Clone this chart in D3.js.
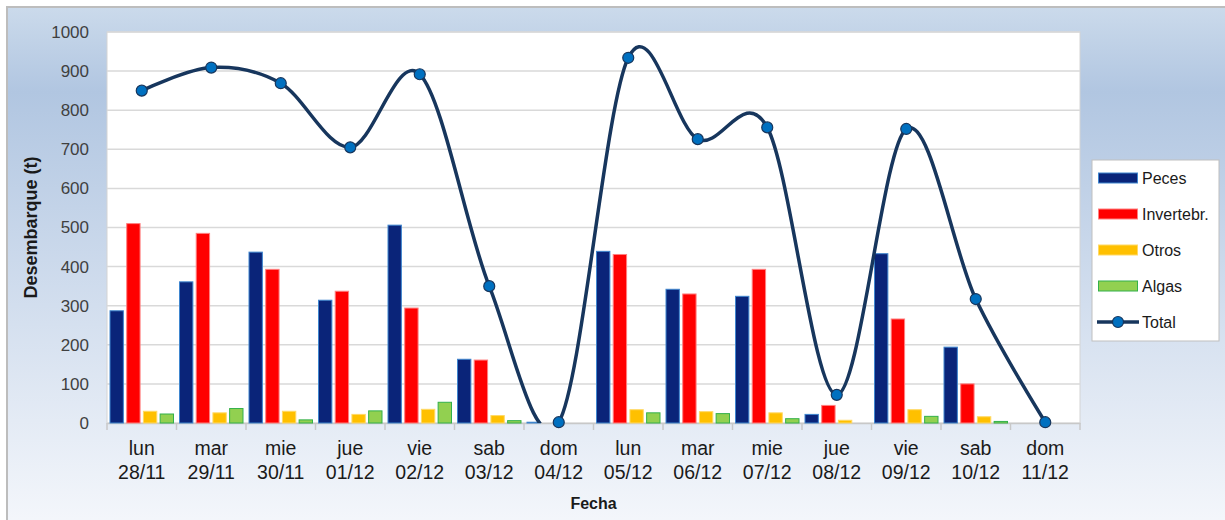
<!DOCTYPE html>
<html>
<head>
<meta charset="utf-8">
<script src="https://cdn.jsdelivr.net/npm/d3@7"></script>
<style>
    body { margin: 0; background: #ffffff; }
    svg { display: block; font-family: "Liberation Sans", Arial, sans-serif; }
</style>
</head>
<body>
<svg id="chart" width="1225" height="520"></svg>
<script>

/* ====================================================================================
 * Data
 * ==================================================================================== */

var days = ["lun", "mar", "mie", "jue", "vie", "sab", "dom",
            "lun", "mar", "mie", "jue", "vie", "sab", "dom"];
var dates = ["28/11", "29/11", "30/11", "01/12", "02/12", "03/12", "04/12",
             "05/12", "06/12", "07/12", "08/12", "09/12", "10/12", "11/12"];

var peces    = [287, 361, 437, 314, 506, 163, 2, 439, 342, 324, 22, 433, 194, 0];
var invert   = [510, 485, 393, 337, 294, 161, 0, 431, 330, 393, 45, 266, 100, 0];
var otros    = [30, 26, 30, 22, 35, 19, 0, 34, 29, 26, 7, 34, 16, 0];
var algas    = [23, 37, 8, 31, 53, 6, 0, 26, 24, 11, 0, 17, 4, 0];
var total    = [850, 909, 869, 705, 892, 350, 2, 934, 726, 756, 72, 752, 317, 2];

var seriesNames = ["Peces", "Invertebr.", "Otros", "Algas"];
var yTicks = [0, 100, 200, 300, 400, 500, 600, 700, 800, 900, 1000];

/* ====================================================================================
 * Layout
 * ==================================================================================== */

var svg = d3.select("#chart");
var plot = {left: 107, right: 1080, top: 32, bottom: 423};

var fills   = ["#0a2479", "#ff0000", "#ffc000", "#92d050"];
var strokes = ["#3f86cf", "#ff8080", "#ffd966", "#33b04a"];

var defs = svg.append("defs");
var grad = defs.append("linearGradient").attr("id", "bg")
    .attr("x1", 0).attr("y1", 0).attr("x2", 0).attr("y2", 1);
grad.append("stop").attr("offset", "0%").attr("stop-color", "#cbdaeb");
grad.append("stop").attr("offset", "16%").attr("stop-color", "#b1c6e1");
grad.append("stop").attr("offset", "100%").attr("stop-color", "#f6f8fc");

defs.append("clipPath").attr("id", "plotclip").append("rect")
    .attr("x", plot.left).attr("y", plot.top)
    .attr("width", plot.right - plot.left).attr("height", plot.bottom - plot.top);

// chart area background + frame
svg.append("rect").attr("x", 7).attr("y", 7).attr("width", 1230).attr("height", 530)
    .attr("fill", "url(#bg)").attr("stroke", "#bdbdbd").attr("stroke-width", 2);

// plot area
svg.append("rect").attr("x", plot.left).attr("y", plot.top)
    .attr("width", plot.right - plot.left).attr("height", plot.bottom - plot.top)
    .attr("fill", "#ffffff").attr("stroke", "#d4d4d4").attr("stroke-width", 1);

// scales
var x0 = d3.scaleBand().domain(d3.range(days.length))
    .range([plot.left, plot.right]).padding(0);
var x1 = d3.scaleBand().domain(seriesNames)
    .range([3, x0.bandwidth() - 3]).paddingInner(0.2);
var y = d3.scaleLinear().domain([0, 1000]).range([plot.bottom, plot.top]);

// gridlines
svg.append("g").selectAll("line").data(yTicks.slice(1)).enter().append("line")
    .attr("x1", plot.left).attr("x2", plot.right)
    .attr("y1", function(d) { return y(d); }).attr("y2", function(d) { return y(d); })
    .attr("stroke", "#d9d9d9").attr("stroke-width", 1.5);

// y axis labels
var yAxis = d3.axisLeft(y).tickValues(yTicks).tickFormat(d3.format("d"))
    .tickSize(0).tickPadding(18);
var yg = svg.append("g").attr("transform", "translate(" + plot.left + ",0)").call(yAxis);
yg.select(".domain").remove();
yg.selectAll("text").attr("font-size", "17px").attr("fill", "#404040")
    .attr("font-family", "Liberation Sans, Arial, sans-serif");

// x axis: baseline and tick marks between categories
var xAxis = d3.axisBottom(x0).tickSize(0).tickFormat("");
var xg = svg.append("g").attr("transform", "translate(0," + plot.bottom + ")").call(xAxis);
xg.select(".domain").attr("stroke", "#c8c8c8").attr("stroke-width", 1.5);
svg.append("g").selectAll("line").data(d3.range(days.length + 1)).enter().append("line")
    .attr("x1", function(d) { return plot.left + d * x0.step(); })
    .attr("x2", function(d) { return plot.left + d * x0.step(); })
    .attr("y1", plot.bottom).attr("y2", plot.bottom + 7)
    .attr("stroke", "#c8c8c8").attr("stroke-width", 1.5);

// two-line category labels
var xl = svg.append("g").selectAll("text").data(d3.range(days.length)).enter().append("text")
    .attr("x", function(i) { return x0(i) + x0.bandwidth() / 2; })
    .attr("y", 455)
    .attr("text-anchor", "middle").attr("font-size", "19.5px").attr("fill", "#1a1a1a");
xl.append("tspan").text(function(i) { return days[i]; });
xl.append("tspan").attr("x", function(i) { return x0(i) + x0.bandwidth() / 2; })
    .attr("dy", 24).text(function(i) { return dates[i]; });

// axis titles
svg.append("text").attr("x", (plot.left + plot.right) / 2).attr("y", 509)
    .attr("text-anchor", "middle").attr("font-weight", "bold").attr("font-size", "16px")
    .attr("fill", "#1a1a1a").text("Fecha");
svg.append("text").attr("transform", "translate(37," + (plot.top + plot.bottom) / 2 + ")rotate(-90)")
    .attr("text-anchor", "middle").attr("font-weight", "bold").attr("font-size", "18px")
    .attr("fill", "#1a1a1a").text("Desembarque (t)");

/* ====================================================================================
 * Bars
 * ==================================================================================== */

var seriesValues = [peces, invert, otros, algas];
var rows = [];
for (var i = 0; i < days.length; i++) {
    for (var s = 0; s < seriesNames.length; s++) {
        rows.push({cat: i, s: s, v: seriesValues[s][i]});
    }
}
svg.append("g").selectAll("rect").data(rows.filter(function(d) { return d.v > 0; }))
    .enter().append("rect")
    .attr("x", function(d) { return x0(d.cat) + x1(seriesNames[d.s]); })
    .attr("y", function(d) { return y(d.v); })
    .attr("width", x1.bandwidth())
    .attr("height", function(d) { return y(0) - y(d.v); })
    .attr("fill", function(d) { return fills[d.s]; })
    .attr("stroke", function(d) { return strokes[d.s]; })
    .attr("stroke-width", 1);

/* ====================================================================================
 * Total line (smoothed)
 * ==================================================================================== */

var cx = function(d, i) { return x0(i) + x0.bandwidth() / 2; };
var line = d3.line().x(cx).y(function(d) { return y(d); })
    .curve(d3.curveCardinal.tension(0));

svg.append("path").datum(total).attr("d", line)
    .attr("clip-path", "url(#plotclip)")
    .attr("fill", "none").attr("stroke", "#17365d").attr("stroke-width", 3.5);

svg.append("g").selectAll("circle").data(total).enter().append("circle")
    .attr("cx", cx).attr("cy", function(d) { return y(d); })
    .attr("r", 5.5).attr("fill", "#0070c0").attr("stroke", "#17365d").attr("stroke-width", 1.2);

/* ====================================================================================
 * Legend
 * ==================================================================================== */

var leg = svg.append("g");
leg.append("rect").attr("x", 1092).attr("y", 160).attr("width", 127).attr("height", 181)
    .attr("fill", "#ffffff").attr("stroke", "#bfbfbf").attr("stroke-width", 1);

var legItems = seriesNames.concat(["Total"]);
var legY = function(i) { return 178 + i * 36; };
leg.selectAll("rect.sw").data(seriesNames).enter().append("rect").attr("class", "sw")
    .attr("x", 1098.5).attr("y", function(d, i) { return legY(i) - 5; })
    .attr("width", 39).attr("height", 10)
    .attr("fill", function(d, i) { return fills[i]; })
    .attr("stroke", function(d, i) { return strokes[i]; });
leg.append("line").attr("x1", 1097).attr("x2", 1139)
    .attr("y1", legY(4)).attr("y2", legY(4))
    .attr("stroke", "#17365d").attr("stroke-width", 3.5);
leg.append("circle").attr("cx", 1118).attr("cy", legY(4)).attr("r", 5.5)
    .attr("fill", "#0070c0").attr("stroke", "#17365d").attr("stroke-width", 1.2);
leg.selectAll("text").data(legItems).enter().append("text")
    .attr("x", 1142).attr("y", function(d, i) { return legY(i) + 5.5; })
    .attr("font-size", "16px").attr("fill", "#1a1a1a")
    .text(function(d) { return d; });

</script>
</body>
</html>
